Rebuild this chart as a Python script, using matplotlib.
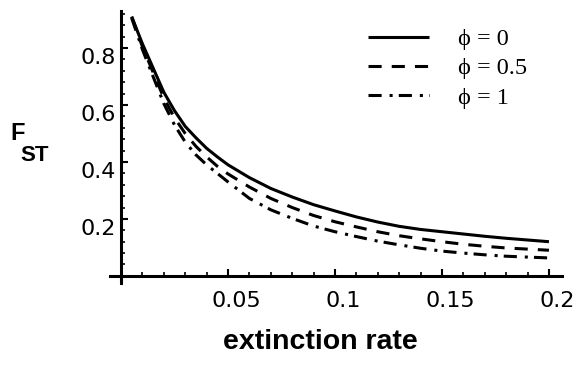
import matplotlib
matplotlib.use("Agg")
import matplotlib.pyplot as plt
import matplotlib.transforms as mtransforms
import numpy as np

# values
rate = [0.005, 0.01, 0.015, 0.02, 0.025, 0.03, 0.035, 0.04, 0.045, 0.05,
        0.06, 0.07, 0.08, 0.09, 0.1, 0.11, 0.12, 0.13, 0.14, 0.15,
        0.16, 0.17, 0.18, 0.19, 0.2]
fst_phi0 = [0.91, 0.815, 0.73, 0.645, 0.58, 0.525, 0.485, 0.448, 0.418, 0.39,
            0.345, 0.307, 0.277, 0.25, 0.228, 0.207, 0.189, 0.174, 0.163, 0.155,
            0.147, 0.139, 0.132, 0.126, 0.12]
fst_phi05 = [0.91, 0.805, 0.715, 0.625, 0.555, 0.5, 0.455, 0.418, 0.385, 0.358,
             0.312, 0.272, 0.24, 0.212, 0.19, 0.172, 0.155, 0.141, 0.13, 0.12,
             0.111, 0.104, 0.098, 0.094, 0.09]
fst_phi1 = [0.905, 0.795, 0.70, 0.605, 0.53, 0.47, 0.425, 0.39, 0.36, 0.33,
            0.272, 0.232, 0.202, 0.175, 0.155, 0.138, 0.122, 0.109, 0.097, 0.087,
            0.08, 0.074, 0.069, 0.066, 0.063]
labels = ["\u03d5 = 0", "\u03d5 = 0.5", "\u03d5 = 1"]
xticks = [0.05, 0.1, 0.15, 0.2]
xtick_labels = ["0.05", "0.1", "0.15", "0.2"]
yticks = [0.2, 0.4, 0.6, 0.8]
ytick_labels = ["0.2", "0.4", "0.6", "0.8"]

W, H = 575, 373
fig = plt.figure(figsize=(W / 100, H / 100), dpi=100)
ax = fig.add_axes([110.3 / W, (H - 283) / H, 451.5 / W, 272 / H])

lw = 2.2
styles = ["-", (0, (4.3, 3.3)), (0, (4.3, 2.6, 1.0, 2.0))]
for ys, ls, lab in zip([fst_phi0, fst_phi05, fst_phi1], styles, labels):
  ax.plot(rate, ys, color="black", lw=lw, linestyle=ls, label=lab,
          solid_capstyle="butt", dash_capstyle="butt")

ax.set_xlim(-0.005, 0.206)
ax.set_ylim(-0.025, 0.93)

for s in ["top", "right"]:
  ax.spines[s].set_visible(False)
ax.spines["left"].set_position(("data", 0))
ax.spines["bottom"].set_position(("data", 0))
ax.spines["left"].set_linewidth(2.2)
ax.spines["bottom"].set_linewidth(2.2)

ax.set_xticks(xticks)
ax.set_xticklabels(xtick_labels)
ax.set_yticks(yticks)
ax.set_yticklabels(ytick_labels)
ax.set_xticks(np.arange(0.01, 0.201, 0.01), minor=True)
ax.set_yticks(np.arange(0.04, 0.921, 0.04), minor=True)

ax.tick_params(which="major", direction="in", length=5, width=1.5,
               labelsize=16, pad=0)
ax.tick_params(which="minor", direction="in", length=3, width=1.2)
ax.tick_params(axis="x", which="major", pad=11)
ax.tick_params(axis="y", which="major", pad=9)

off = mtransforms.ScaledTranslation(7 / 100, -8 / 100, fig.dpi_scale_trans)
for t in ax.get_yticklabels():
  t.set_transform(t.get_transform() + off)
offx = mtransforms.ScaledTranslation(8 / 100, 0, fig.dpi_scale_trans)
for t in ax.get_xticklabels():
  t.set_transform(t.get_transform() + offx)

fig.text(320 / W, 1 - 342 / H, "extinction rate", fontsize=20.5,
         fontweight="bold", family="Liberation Sans", ha="center", va="center")
fig.text(10 / W, 1 - 133 / H, "F", fontsize=17, fontweight="bold",
         family="Liberation Sans", ha="left", va="center")
fig.text(20 / W, 1 - 155 / H, "ST", fontsize=16, fontweight="bold",
         family="Liberation Sans", ha="left", va="center")

ax.legend(loc="upper left", bbox_to_anchor=(368 / W, 1 - 28 / H),
          bbox_transform=fig.transFigure, frameon=False, borderpad=0,
          borderaxespad=0, handlelength=2.5, handletextpad=1.2,
          labelspacing=0.3,
          prop={"family": ["Liberation Serif", "DejaVu Serif"], "size": 17.5})

fig.savefig("out.png", dpi=100)
